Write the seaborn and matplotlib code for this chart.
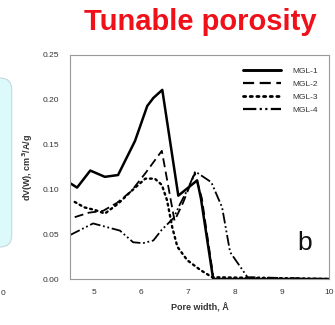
import numpy as np
import pandas as pd
import matplotlib
matplotlib.use("Agg")
import matplotlib.pyplot as plt
from matplotlib.patches import FancyBboxPatch
import seaborn as sns

# pore width (A) and dV(W) values
w1 = [4.5, 4.65, 4.93, 5.24, 5.52, 5.88, 6.14, 6.27, 6.46, 6.80, 7.2, 7.28, 7.54, 10.0]
v1 = [0.107, 0.102, 0.121, 0.114, 0.116, 0.154, 0.193, 0.202, 0.211, 0.093, 0.110, 0.090, 0.0, 0.0]

w2 = [4.6, 4.9, 5.2, 5.5, 5.8, 6.1, 6.45, 6.72, 6.9, 7.15, 7.3, 7.55, 10.0]
v2 = [0.069, 0.074, 0.076, 0.085, 0.098, 0.118, 0.143, 0.065, 0.085, 0.118, 0.090, 0.0, 0.0]

w3 = [4.6, 4.8, 5.03, 5.24, 5.52, 5.8, 6.1, 6.3, 6.45, 6.56, 6.67, 6.78, 6.99, 7.27, 7.52, 10.0]
v3 = [0.086, 0.080, 0.077, 0.073, 0.084, 0.098, 0.112, 0.112, 0.105, 0.088, 0.058, 0.036, 0.021, 0.010, 0.002, 0.0]

w4 = [4.5, 4.99, 5.56, 5.84, 6.05, 6.27, 6.45, 6.7, 6.84, 7.0, 7.16, 7.5, 7.73, 7.9, 8.27, 10.0]
v4 = [0.049, 0.062, 0.054, 0.041, 0.040, 0.043, 0.055, 0.068, 0.084, 0.100, 0.120, 0.108, 0.080, 0.030, 0.002, 0.0]

names = ["MGL-1", "MGL-2", "MGL-3", "MGL-4"]
xticks = [5, 6, 7, 8, 9, 10]
yticks = [0.00, 0.05, 0.10, 0.15, 0.20, 0.25]

sns.set_style("white")
plt.rcParams['font.family'] = ['Liberation Sans', 'DejaVu Sans']

fig = plt.figure(figsize=(3.35, 3.25), dpi=100)
ax = fig.add_axes([0.209, 0.1415, 0.773, 0.6895])

styles = [
    dict(linestyle="-", linewidth=1.8),
    dict(linestyle=(0, (5, 2.5)), linewidth=1.3),
    dict(linestyle=(0, (0.8, 1.6)), linewidth=1.7, dash_capstyle="round"),
    dict(linestyle=(0, (6, 1.5, 1, 1.5, 1, 1.5)), linewidth=1.3),
]
for w, v, name, st in zip([w1, w2, w3, w4], [v1, v2, v3, v4], names, styles):
    df = pd.DataFrame({"w": w, "v": v})
    sns.lineplot(data=df, x="w", y="v", ax=ax, color="black", label=name, **st)

ax.set_xlim(4.5, 10)
ax.set_ylim(0, 0.25)
ax.set_xticks(xticks)
ax.set_yticks(yticks)
ax.set_yticklabels([f"{t:.2f}" for t in yticks])
ax.tick_params(axis="both", labelsize=6, colors="#555555", labelcolor="#333333",
               length=2.5, width=0.6, direction="out", pad=5)
ax.tick_params(axis="x", pad=5)
for s in ax.spines.values():
    s.set_color("#999999")
    s.set_linewidth(0.8)

ax.set_xlabel("Pore width, Å", fontsize=6.5, color="#333333", labelpad=5,
              fontweight="bold")
ax.set_ylabel("dV(W), cm$^\\mathbf{3}$/A/g", fontsize=6.5, color="#333333", labelpad=6,
              fontweight="bold")

leg = ax.legend(loc="upper right", frameon=False, fontsize=6, handlelength=4.6,
                labelspacing=0.62, handletextpad=1.4, borderaxespad=0.9,
                bbox_to_anchor=(1.0, 0.995))
for t in leg.get_texts():
    t.set_color("#333333")
for line in leg.get_lines():
    line.set_linewidth(line.get_linewidth() + 0.3)

ax.text(0.905, 0.16, "b", transform=ax.transAxes, fontsize=19, ha="center", va="center",
        color="#111111")

fig.text(0.597, 0.932, "Tunable porosity", fontsize=21, fontweight="bold",
         color="#f0101a", ha="center", va="center")

# slide decoration: light cyan panel at the left edge
box = FancyBboxPatch((-0.08, 0.24), 0.115, 0.52, boxstyle="round,pad=0,rounding_size=0.035",
                     transform=fig.transFigure, facecolor="#dcfafb", edgecolor="#c8d8dc",
                     linewidth=0.8, zorder=0)
fig.patches.append(box)
fig.text(0.002, 0.098, "0", fontsize=6, color="#333333", ha="left", va="center")

fig.savefig("out.png", dpi=100)
